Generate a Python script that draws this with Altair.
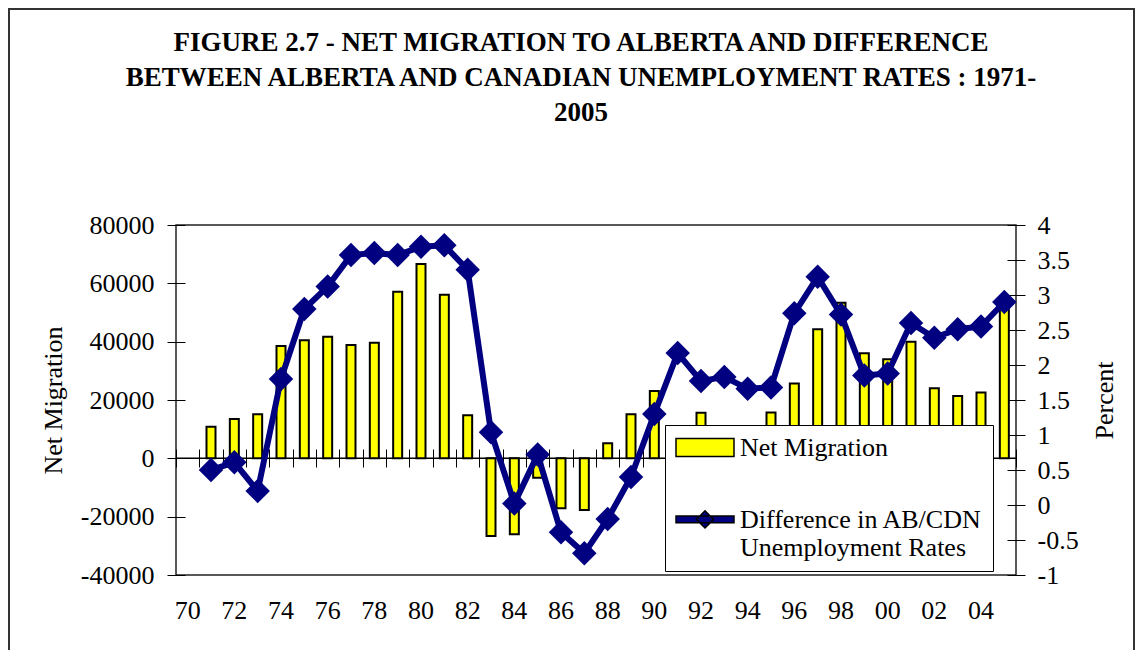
import altair as alt
import pandas as pd

FONT = "Liberation Serif"

# ---- data ----
years = ["70", "71", "72", "73", "74", "75", "76", "77", "78", "79",
         "80", "81", "82", "83", "84", "85", "86", "87", "88", "89",
         "90", "91", "92", "93", "94", "95", "96", "97", "98", "99",
         "00", "01", "02", "03", "04", "05"]

net_migration = [None, 10800, 13500, 15100, 38500, 40450, 41700, 38850, 39650, 57100,
                 66600, 56100, 14750, -26650, -26050, -6650, -17150, -17700, 5150, 15100,
                 23100, 8000, 15650, 5000, 3000, 15750, 25700, 44300, 53350, 36000,
                 33950, 40000, 24000, 21350, 22600, 54000]

unemp_diff = [None, 0.50, 0.61, 0.20, 1.80, 2.80, 3.12, 3.57, 3.60, 3.57,
              3.69, 3.71, 3.36, 1.04, 0.02, 0.72, -0.39, -0.69, -0.20, 0.40,
              1.30, 2.17, 1.77, 1.83, 1.66, 1.68, 2.74, 3.26, 2.72, 1.85,
              1.88, 2.60, 2.39, 2.51, 2.55, 2.90]

left_ticks = [-40000, -20000, 0, 20000, 40000, 60000, 80000]
right_ticks = [-1, -0.5, 0, 0.5, 1, 1.5, 2, 2.5, 3, 3.5, 4]

series = ["Net Migration", "Difference in AB/CDN Unemployment Rates"]
series_colors = ["#FFFF00", "#000080"]
# legend symbols (unit = 20px): a yellow box, and a thick line with a diamond
series_shapes = [
    "M-1.45,-0.88H1.45V0.02H-1.45Z",
    "M-1.45,-0.6H1.45V-0.26H-1.45Z M0,-0.86L0.43,-0.43L0,0L-0.43,-0.43Z",
]

title_lines = [
    "FIGURE 2.7 - NET MIGRATION TO ALBERTA AND DIFFERENCE",
    "BETWEEN ALBERTA AND CANADIAN UNEMPLOYMENT RATES : 1971-",
    "2005",
]

df = pd.DataFrame({"year": years, "net": net_migration, "diff": unemp_diff})
x_scale = alt.Scale(domain=years, paddingInner=0, paddingOuter=0)

# ---- left-scale layer: frame, zero line, bars ----
frame = alt.Chart(alt.Data(values=[{"k": 1}])).mark_rect(
    fill=None, stroke="#333333", strokeWidth=2
).encode(
    x=alt.value(-167), x2=alt.value(958), y=alt.value(-216), y2=alt.value(480)
)

zero_rule = alt.Chart(pd.DataFrame({"zero": [0]})).mark_rule(
    color="black", strokeWidth=1.5
).encode(
    y=alt.Y("zero:Q", title="Net Migration")
)

bars = alt.Chart(df).mark_bar(
    size=9, fill="#FFFF00", stroke="black", strokeWidth=2
).encode(
    x=alt.X("year:N", scale=x_scale, sort=None, title=None,
            axis=alt.Axis(orient="bottom", ticks=False, domain=False, grid=False,
                          labelExpr="parseInt(datum.value) % 2 == 0 ? datum.value : ''",
                          labelAngle=0, labelFont=FONT, labelFontSize=26,
                          labelColor="black", labelPadding=22, labelOverlap=False)),
    y=alt.Y("net:Q", title="Net Migration",
            scale=alt.Scale(domain=[-40000, 80000], nice=False, zero=False),
            axis=alt.Axis(values=left_ticks, labelExpr="'' + datum.value",
                          offset=-9, tickSize=18, tickColor="black", tickWidth=1,
                          domain=False, grid=False, labelFont=FONT, labelFontSize=26,
                          labelColor="black", labelPadding=13,
                          titleFont=FONT, titleFontSize=26, titleFontWeight="normal",
                          titleColor="black", titlePadding=14)),
)

layer_left = alt.layer(frame, zero_rule, bars)

# ---- right-scale layer: line, markers, legend entries ----
x_top = alt.X("year:N", scale=x_scale, sort=None, title=None,
              axis=alt.Axis(orient="top", offset=-242, labels=False, ticks=True,
                            tickSize=18, tickBand="extent", tickColor="black",
                            tickWidth=1, domain=False, grid=False))
y_right = alt.Y("diff:Q", title="Percent",
                scale=alt.Scale(domain=[-1, 4], nice=False, zero=False),
                axis=alt.Axis(orient="right", values=right_ticks,
                              labelExpr="'' + datum.value",
                              offset=-9, tickSize=18, tickColor="black", tickWidth=1,
                              domain=False, grid=False, labelFont=FONT, labelFontSize=26,
                              labelColor="black", labelPadding=12,
                              titleFont=FONT, titleFontSize=26, titleFontWeight="normal",
                              titleColor="black", titleAngle=270, titleBaseline="top",
                              titlePadding=13))

line = alt.Chart(df).mark_line(color="#000080", strokeWidth=6).encode(x=x_top, y=y_right)
points = alt.Chart(df).mark_point(
    shape="diamond", filled=True, size=600, color="#000080", opacity=1
).encode(x=x_top, y=y_right)

legend = alt.Legend(
    title=None, orient="none", legendX=489, legendY=200, direction="vertical",
    fillColor="white", strokeColor="black", padding=10, rowPadding=46,
    symbolSize=1600, symbolStrokeWidth=1.5, symbolOffset=9,
    symbolOpacity=1, labelFont=FONT, labelFontSize=26, labelColor="black",
    labelBaseline="alphabetic", labelOffset=14, labelLimit=0, zindex=1,
    labelExpr="datum.label == 'Net Migration' ? datum.label : "
              "['Difference in AB/CDN', 'Unemployment Rates']",
)

legend_layer = alt.Chart(pd.DataFrame({"series": series})).transform_filter(
    "false"
).mark_point(filled=True, stroke="black", strokeWidth=1.5).encode(
    color=alt.Color("series:N", scale=alt.Scale(domain=series, range=series_colors),
                    legend=legend),
    shape=alt.Shape("series:N", scale=alt.Scale(domain=series, range=series_shapes),
                    legend=legend),
)

layer_right = alt.layer(line, points, legend_layer)

chart = alt.layer(layer_left, layer_right).resolve_scale(
    y="independent"
).resolve_axis(
    x="independent"
).properties(
    width=840, height=350,
    autosize=alt.AutoSizeParams(type="none"),
    padding={"left": 168, "top": 217, "right": 119, "bottom": 75},
    view=alt.ViewBackground(stroke="#222222", strokeWidth=1.5),
    title=alt.TitleParams(text=title_lines, font=FONT, fontSize=27, fontWeight="bold",
                          color="black", anchor="middle", frame="group", dx=-15,
                          offset=-119, lineHeight=35),
).configure_view(
    stroke="#222222", strokeWidth=1.5
).configure(font=FONT)

chart.save("out.html", embed_options={"renderer": "svg", "actions": False})
